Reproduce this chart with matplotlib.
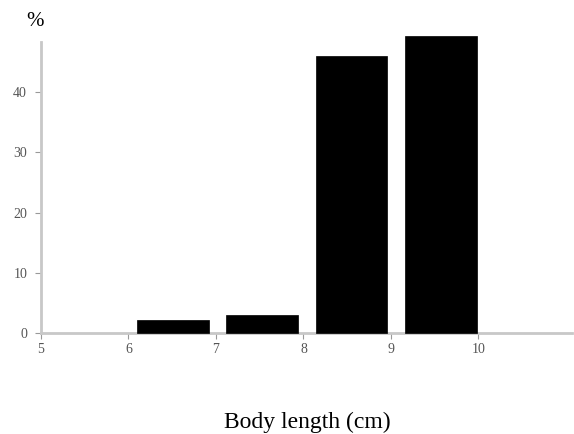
import matplotlib.pyplot as plt

# body length classes (cm) and percentage of fish
bin_left = [6.1, 7.12, 8.14, 9.16]
percent = [2.1, 3.0, 46.0, 49.3]
bar_width = 0.82

xticks = [5, 6, 7, 8, 9, 10]
yticks = [0, 10, 20, 30, 40]

plt.rcParams['font.family'] = ['Liberation Serif', 'DejaVu Serif']

fig = plt.figure(figsize=(5.74, 4.34), dpi=100)
ax = fig.add_axes([41 / 574, 1 - 333 / 434, 531 / 574, 291 / 434])

ax.bar(bin_left, percent, width=bar_width, align='edge', color='black',
       edgecolor='black', linewidth=0.5, clip_on=False, zorder=3)

ax.set_xlim(5, 11.07)
ax.set_ylim(0, 48.3)
ax.set_xticks(xticks)
ax.set_yticks(yticks)

for side in ('top', 'right'):
    ax.spines[side].set_visible(False)
for side in ('left', 'bottom'):
    ax.spines[side].set_color('#c8c8c8')
    ax.spines[side].set_linewidth(2)

ax.tick_params(axis='both', colors='#999999', labelcolor='#555555',
               labelsize=10, length=4, width=0.8)
ax.tick_params(axis='y', pad=6)
ax.tick_params(axis='x', pad=3)

fig.text(35 / 574, 1 - 22 / 434, '%', fontsize=15, ha='center', va='center')
fig.text(307 / 574, 1 - 428 / 434, 'Body length (cm)', fontsize=17,
         ha='center', va='baseline')

plt.savefig('out.png', dpi=100)
